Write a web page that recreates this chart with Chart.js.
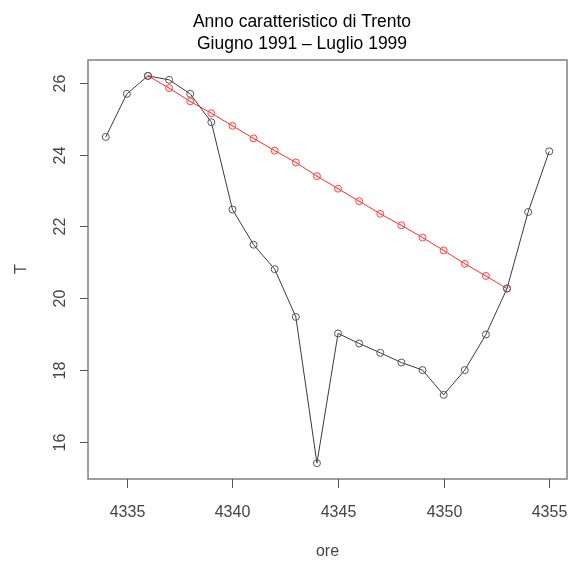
<!DOCTYPE html>
<html>
<head>
<meta charset="utf-8">
<script src="https://cdn.jsdelivr.net/npm/chart.js@4"></script>
<style>
  body { margin: 0; background: #fff; }
  canvas { display: block; }
</style>
</head>
<body>
<canvas id="chart" width="574" height="562"></canvas>
<script>
// hours (ore) and temperature T
const ore = [4334, 4335, 4336, 4337, 4338, 4339, 4340, 4341, 4342, 4343, 4344,
             4345, 4346, 4347, 4348, 4349, 4350, 4351, 4352, 4353, 4354, 4355];
const tempT = [24.49, 25.69, 26.19, 26.08, 25.69, 24.90, 22.47, 21.49, 20.81, 19.48, 15.41,
               19.02, 18.74, 18.48, 18.21, 18.00, 17.31, 18.00, 18.99, 20.27, 22.40, 24.09];

// red segment between the two marked points
const oreRed = [4336, 4337, 4338, 4339, 4340, 4341, 4342, 4343, 4344,
                4345, 4346, 4347, 4348, 4349, 4350, 4351, 4352, 4353];
const tempRed = [26.19, 25.85, 25.48, 25.15, 24.80, 24.45, 24.11, 23.78, 23.40,
                 23.05, 22.70, 22.35, 22.03, 21.69, 21.33, 20.96, 20.62, 20.27];

const xTicks = [4335, 4340, 4345, 4350, 4355];
const yTicks = [16, 18, 20, 22, 24, 26];
const titleLines = ['Anno caratteristico di Trento', 'Giugno 1991 \u2013 Luglio 1999'];

const FONT = '"Liberation Sans", Arial, Helvetica, sans-serif';

function toPoints(xs, ys) {
  return xs.map((x, i) => ({ x: x, y: ys[i] }));
}

const rAxes = {
  id: 'rAxes',
  afterDraw(chart) {
    const ctx = chart.ctx;
    const a = chart.chartArea;
    const xs = chart.scales.x, ys = chart.scales.y;
    ctx.save();

    // box
    ctx.strokeStyle = '#808080';
    ctx.lineWidth = 1.5;
    ctx.strokeRect(a.left, a.top, a.right - a.left, a.bottom - a.top);

    // x ticks
    ctx.strokeStyle = '#555';
    ctx.lineWidth = 1;
    ctx.fillStyle = '#444';
    ctx.font = '16px ' + FONT;
    ctx.textAlign = 'center';
    ctx.textBaseline = 'alphabetic';
    xTicks.forEach(v => {
      const px = Math.round(xs.getPixelForValue(v)) + 0.5;
      ctx.beginPath();
      ctx.moveTo(px, a.bottom);
      ctx.lineTo(px, a.bottom + 9);
      ctx.stroke();
      ctx.fillText(String(v), px, 517);
    });

    // y ticks, labels parallel to the axis
    yTicks.forEach(v => {
      const py = Math.round(ys.getPixelForValue(v)) + 0.5;
      ctx.beginPath();
      ctx.moveTo(a.left - 8, py);
      ctx.lineTo(a.left, py);
      ctx.stroke();
      ctx.save();
      ctx.translate(61, py);
      ctx.rotate(-Math.PI / 2);
      ctx.textBaseline = 'middle';
      ctx.fillText(String(v), 0, 0);
      ctx.restore();
    });

    // axis titles
    ctx.fillText('ore', (a.left + a.right) / 2, 556);
    ctx.save();
    ctx.translate(21.5, 269);
    ctx.rotate(-Math.PI / 2);
    ctx.textBaseline = 'middle';
    ctx.fillText('T', 0, 0);
    ctx.restore();

    // main title
    ctx.fillStyle = '#000';
    ctx.font = '17.5px ' + FONT;
    ctx.fillText(titleLines[0], 302, 27);
    ctx.fillText(titleLines[1], 302, 49);
    ctx.restore();
  }
};

new Chart(document.getElementById('chart'), {
  type: 'line',
  data: {
    datasets: [
      {
        label: 'T',
        data: toPoints(ore, tempT),
        borderColor: '#3a3a3a',
        borderWidth: 1,
        pointRadius: 3.5,
        pointBorderColor: '#555',
        pointBackgroundColor: 'rgba(0,0,0,0)',
        pointBorderWidth: 1,
        tension: 0
      },
      {
        label: 'tendenza',
        data: toPoints(oreRed, tempRed),
        borderColor: '#ff2a2a',
        borderWidth: 1,
        pointRadius: 3.5,
        pointBorderColor: '#ff4a4a',
        pointBackgroundColor: 'rgba(255,0,0,0.08)',
        pointBorderWidth: 1,
        tension: 0
      }
    ]
  },
  options: {
    responsive: false,
    animation: false,
    layout: { padding: { left: 88, right: 7, top: 60, bottom: 83 } },
    plugins: {
      legend: { display: false },
      tooltip: { enabled: false },
      title: { display: false }
    },
    scales: {
      x: { type: 'linear', min: 4333.16, max: 4355.84, display: false },
      y: { type: 'linear', min: 14.968, max: 26.632, display: false }
    }
  },
  plugins: [rAxes]
});
</script>
</body>
</html>
